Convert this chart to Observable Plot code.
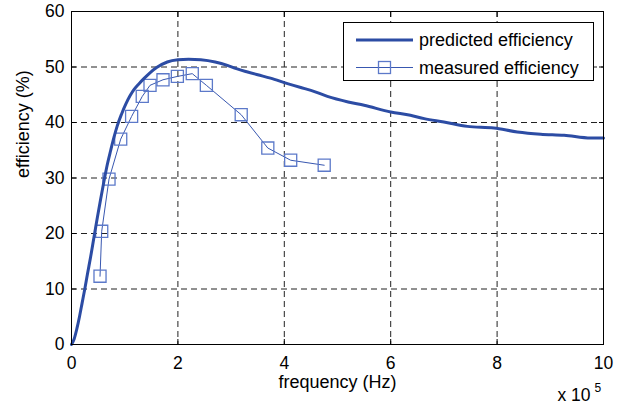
<!DOCTYPE html>
<html><head><meta charset="utf-8">
<script src="https://cdn.jsdelivr.net/npm/d3@7"></script>
<script src="https://cdn.jsdelivr.net/npm/@observablehq/plot@0.6"></script>
<style>
html,body{margin:0;padding:0;background:#fff;}
#wrap{position:relative;width:627px;height:408px;font-family:"Liberation Sans",Arial,Helvetica,sans-serif;}
#legend{position:absolute;left:343px;top:22px;width:251px;height:59px;border:1px solid #000;background:#fff;box-sizing:border-box;}
#legend svg{position:absolute;left:0;top:0;}
#legend .t{position:absolute;left:75px;font-size:18px;line-height:18px;color:#000;white-space:nowrap;}
</style></head>
<body><div id="wrap"><div id="legend"></div></div>
<script>
// frequency in units of 1e5 Hz
const xTicks = [0, 2, 4, 6, 8, 10];
const yTicks = [0, 10, 20, 30, 40, 50, 60];

const predFreq = [0, 0.05, 0.1, 0.15, 0.2, 0.25, 0.3, 0.36, 0.42, 0.486, 0.55, 0.61, 0.67, 0.737, 0.8, 0.86, 0.94, 1.02, 1.1, 1.18, 1.27, 1.36, 1.48, 1.6, 1.8, 2.0, 2.2, 2.43, 2.7, 2.93, 3.1, 3.31, 3.5, 3.74, 4.06, 4.31, 4.5, 4.81, 5.2, 5.5, 6.0, 6.37, 6.63, 7.0, 7.44, 7.94, 8.38, 8.82, 9.26, 9.76, 10];
const predEff  = [0, 1.0, 2.8, 5.0, 7.5, 10.0, 12.7, 15.8, 19.2, 22.9, 26.3, 29.4, 32.3, 35.0, 37.4, 39.4, 41.5, 43.3, 44.8, 46.0, 47.0, 47.9, 49.0, 49.9, 50.9, 51.3, 51.4, 51.3, 50.9, 50.3, 49.7, 49.1, 48.6, 48.0, 47.0, 46.3, 45.8, 44.7, 43.7, 43.1, 41.9, 41.3, 40.7, 40.1, 39.3, 39.0, 38.3, 37.9, 37.7, 37.2, 37.2];

const measFreq = [0.536, 0.568, 0.705, 0.925, 1.13, 1.33, 1.476, 1.72, 1.99, 2.27, 2.535, 3.19, 3.69, 4.12, 4.75];
const measEff  = [12.3, 20.4, 29.8, 37.0, 41.1, 44.7, 46.7, 47.7, 48.3, 48.8, 46.7, 41.4, 35.4, 33.2, 32.3];

const seriesNames = ["predicted efficiency", "measured efficiency"];
const xLabel = "frequency (Hz)";
const yLabel = "efficiency (%)";
const xExp = "x 10";
const xExpPow = "5";

const predColor = "#2c4ca4";
const measColor = "#3857b0";
const markColor = "#5c79c9";

const pred = predFreq.map((x, i) => ({x, y: predEff[i]}));
const meas = measFreq.map((x, i) => ({x, y: measEff[i]}));

const chart = Plot.plot({
  width: 627, height: 408,
  marginLeft: 71, marginRight: 24, marginTop: 11, marginBottom: 64,
  style: {fontFamily: '"Liberation Sans", Arial, Helvetica, sans-serif', fontSize: "17.5px", color: "#000", background: "#fff"},
  x: {domain: [0, 10], ticks: xTicks},
  y: {domain: [0, 60], ticks: yTicks},
  marks: [
    Plot.gridX(xTicks, {stroke: "#222", strokeOpacity: 1, strokeDasharray: "6,4", strokeWidth: 1}),
    Plot.gridY(yTicks, {stroke: "#222", strokeOpacity: 1, strokeDasharray: "6,4", strokeWidth: 1}),
    Plot.axisX(xTicks, {anchor: "bottom", tickSize: 0, tickPadding: 12, label: null, fontSize: 17.5}),
    Plot.axisY(yTicks, {anchor: "left", tickSize: 0, tickPadding: 7, label: null, fontSize: 17.5}),
    Plot.axisX(xTicks, {anchor: "bottom", tickSize: -5, tickFormat: () => "", label: null}),
    Plot.axisX(xTicks, {anchor: "top", tickSize: -5, tickFormat: () => "", label: null}),
    Plot.axisY(yTicks, {anchor: "left", tickSize: -5, tickFormat: () => "", label: null}),
    Plot.axisY(yTicks, {anchor: "right", tickSize: -5, tickFormat: () => "", label: null}),
    Plot.line(meas, {x: "x", y: "y", stroke: measColor, strokeWidth: 1}),
    Plot.dot(meas, {x: "x", y: "y", symbol: "square", r: 6.8, stroke: markColor, strokeWidth: 1.3, fill: "none"}),
    Plot.line(pred, {x: "x", y: "y", stroke: predColor, strokeWidth: 3, curve: "monotone-x"}),
    Plot.frame({stroke: "#000", strokeWidth: 1}),
    Plot.text([xLabel], {frameAnchor: "bottom", dy: 43, fontSize: 18, fill: "#000"}),
    Plot.text([yLabel], {frameAnchor: "left", dx: -48, rotate: -90, fontSize: 18, fill: "#000"}),
    Plot.text([xExp], {frameAnchor: "bottom-right", textAnchor: "end", dx: -13, dy: 56, fontSize: 17.5, fill: "#000"}),
    Plot.text([xExpPow], {frameAnchor: "bottom-right", textAnchor: "start", dx: -9, dy: 47, fontSize: 12, fill: "#000"})
  ]
});
document.getElementById("wrap").prepend(chart);
chart.style.position = "absolute"; chart.style.left = "0"; chart.style.top = "0";

// legend
const leg = document.getElementById("legend");
leg.innerHTML = `<svg width="251" height="59">
  <line x1="12" x2="69" y1="17" y2="17" stroke="${predColor}" stroke-width="3"/>
  <line x1="12" x2="69" y1="44.5" y2="44.5" stroke="${measColor}" stroke-width="1"/>
  <rect x="34.5" y="38.5" width="12" height="12" fill="none" stroke="${markColor}" stroke-width="1.3"/>
</svg>
<div class="t" style="top:8px">${seriesNames[0]}</div>
<div class="t" style="top:35.5px">${seriesNames[1]}</div>`;
</script></body></html>
